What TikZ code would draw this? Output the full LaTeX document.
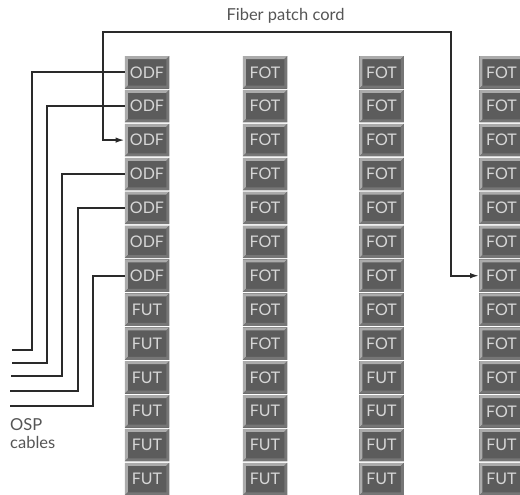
\documentclass[tikz,border=0pt]{standalone}
\usepackage{fontspec}
\setmainfont{Lato}
\usetikzlibrary{arrows.meta}
\definecolor{facegray}{HTML}{5C5C5C}
\definecolor{bevellight}{HTML}{ABABAB}
\definecolor{beveldark}{HTML}{767676}
\definecolor{capgray}{HTML}{D6D6D6}
\definecolor{wiregray}{HTML}{2A2A2A}
\definecolor{notegray}{HTML}{555555}

\begin{document}
\begin{tikzpicture}[
    x=1pt,
    y=-1pt,
    every node/.style={font=\fontsize{16}{18.3}\selectfont},
    panel/.style={minimum width=44.5pt, minimum height=32.5pt, inner sep=0pt,
      fill=facegray, text=capgray,
      path picture={
        \fill[bevellight] (path picture bounding box.north west)
          -- (path picture bounding box.north east) -- ++(-3pt,-3pt)
          -| ([shift={(3pt,3pt)}]path picture bounding box.south west)
          -- (path picture bounding box.south west) -- cycle;
        \fill[beveldark] (path picture bounding box.south east)
          -- (path picture bounding box.south west) -- ++(3pt,3pt)
          -| ([shift={(-3pt,-3pt)}]path picture bounding box.north east)
          -- (path picture bounding box.north east) -- cycle;
      }},
    cable/.style={draw=wiregray, line width=1.6pt},
    cord/.style={{Latex[length=9pt,width=5.5pt]}-{Latex[length=9pt,width=5.5pt]},
      draw=wiregray, line width=1.6pt},
    note/.style={text=notegray, inner sep=0pt, font=\fontsize{16.5}{18.3}\selectfont}
  ]
    \useasboundingbox (0,0) rectangle (520,495);

    % racks: column / centre x / main label / how many of them
    \foreach \c/\x/\lab/\nmain in {1/147/ODF/7, 2/265/FOT/10, 3/381.5/FOT/9, 4/501.5/FOT/11} {
      \pgfmathtruncatemacro{\nfut}{\nmain+1}
      \foreach \r in {1,...,\nmain}
        \node[panel] (c\c r\r) at (\x,{72.3+33.9*(\r-1)}) {\lab};
      \foreach \r in {\nfut,...,13}
        \node[panel] (c\c r\r) at (\x,{72.3+33.9*(\r-1)}) {FUT};
    }

    % OSP cables into the ODF panels
    \foreach \r/\bx/\by/\ex [count=\i] in {1/32/350/12, 2/47/363/12, 4/62/376/11, 5/78/391/10, 7/93/406/10} {
      \coordinate (osp\i) at (\ex,\by);
      \draw[cable] (osp\i) -- (\bx,\by) |- (c1r\r.west);
    }

    % patch cord
    \coordinate (cordL) at (103,32);
    \coordinate (cordR) at (451,32);
    \draw[cord] (c1r3.west) -| (cordL) -- (cordR) |- (c4r7.west);

    \node[note, anchor=base] (cordlabel) at (285.5,21) {Fiber patch cord};
    \node[note, anchor=north west, align=left] (osplabel) at (10,418) {OSP\\cables};
  \end{tikzpicture}
\end{document}
